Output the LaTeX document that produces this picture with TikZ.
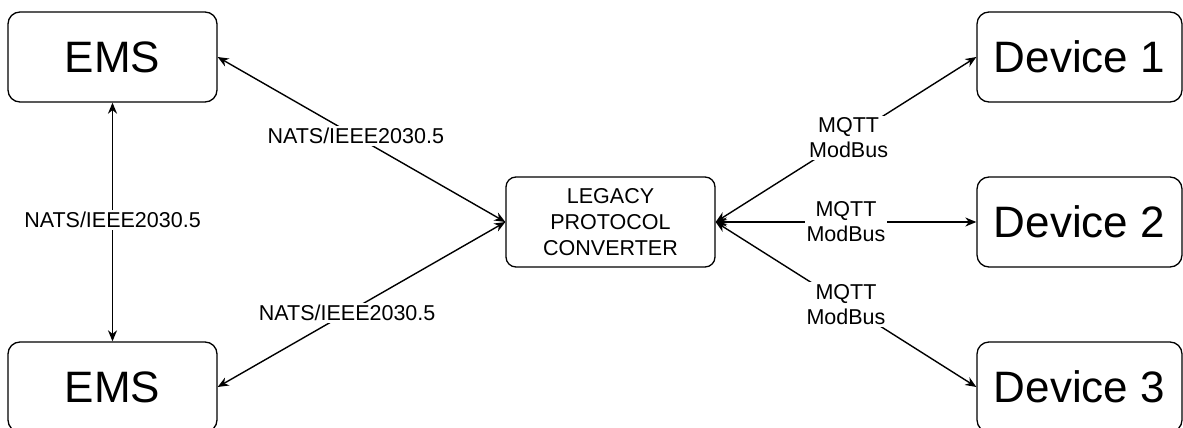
\documentclass[tikz,border=0pt]{standalone}
\usepackage{fontspec}
\setmainfont{Liberation Sans}
\usetikzlibrary{arrows.meta}
\begin{document}
\begin{tikzpicture}[x=1pt,y=-1pt,
  box/.style={draw=black, line width=1.3pt, rounded corners=12pt, inner sep=0pt, font=\fontsize{44}{53}\selectfont},
  convbox/.style={draw=black, line width=1.3pt, rounded corners=10pt, inner sep=0pt, align=center, font=\fontsize{21.5}{26}\selectfont},
  tip/.style={Stealth[length=11pt,width=9pt,inset=3.5pt]},
  link/.style={line width=1.4pt, {Stealth[length=11pt,width=9pt,inset=3.5pt]}-{Stealth[length=11pt,width=9pt,inset=3.5pt]}},
  lbl/.style={fill=white, inner sep=2pt, align=center, font=\fontsize{21.5}{25}\selectfont}]
\useasboundingbox (0,0) rectangle (1183,428);
\clip (0,0) rectangle (1183,428);

% EMS boxes on the left
\node[box, minimum width=209pt, minimum height=90pt] (ems1) at (112.5,57) {EMS};
\node[box, minimum width=209pt, minimum height=90pt] (ems2) at (112.5,387) {EMS};

% protocol converter in the middle
\node[convbox, minimum width=209pt, minimum height=90pt] (conv) at (610.5,222) {LEGACY\\PROTOCOL\\CONVERTER};

% field devices on the right
\node[box, minimum width=205pt, minimum height=90pt] (dev1) at (1079.5,57) {Device 1};
\node[box, minimum width=205pt, minimum height=90pt] (dev2) at (1079.5,222) {Device 2};
\node[box, minimum width=205pt, minimum height=90pt] (dev3) at (1079.5,387) {Device 3};

% links
\draw[link] (ems1.south) -- node[lbl, pos=0.49] {NATS/IEEE2030.5} (ems2.north);
\draw[link] (ems1.east) -- node[lbl, pos=0.48] {NATS/IEEE2030.5} (conv.west);
\draw[link] (ems2.east) -- node[lbl, pos=0.45] {NATS/IEEE2030.5} (conv.west);
\draw[link] (conv.east) -- node[lbl, pos=0.51] {MQTT\\ModBus} (dev1.west);
\draw[link] (conv.east) -- node[lbl, pos=0.5] {MQTT\\ModBus} (dev2.west);
\draw[link] (conv.east) -- node[lbl, pos=0.5] {MQTT\\ModBus} (dev3.west);
\end{tikzpicture}
\end{document}
